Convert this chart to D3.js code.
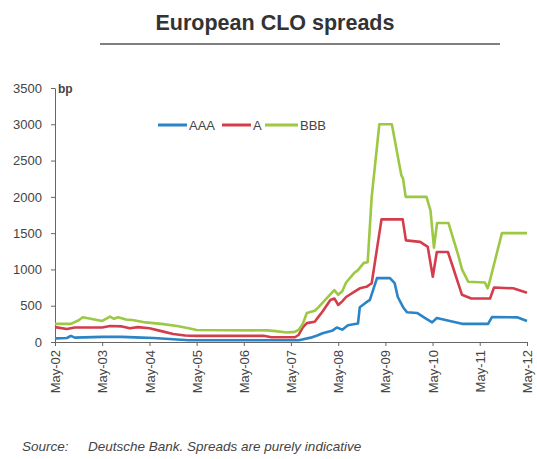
<!DOCTYPE html>
<html>
<head>
<meta charset="utf-8">
<script src="https://cdn.jsdelivr.net/npm/d3@7"></script>
<style>
  body { margin: 0; background: #fff; }
  text { font-family: "Liberation Sans", Arial, sans-serif; }
</style>
</head>
<body>
<div id="chart"></div>
<script>
// spreads in bp
var aaa = [
  ["2002-05-01", 50], ["2002-08-01", 55], ["2002-09-01", 85], ["2002-10-01", 60],
  ["2003-05-01", 70], ["2003-10-01", 70], ["2004-03-01", 60], ["2004-06-01", 55],
  ["2004-09-01", 45], ["2004-12-01", 35], ["2005-03-01", 25], ["2007-07-01", 25],
  ["2007-10-01", 60], ["2007-11-20", 90], ["2008-01-01", 120], ["2008-03-20", 160],
  ["2008-04-20", 200], ["2008-06-01", 170], ["2008-07-15", 230], ["2008-10-01", 255],
  ["2008-10-15", 480], ["2008-11-25", 535], ["2009-01-01", 580], ["2009-02-25", 880],
  ["2009-06-05", 880], ["2009-07-12", 810], ["2009-08-05", 620], ["2009-09-15", 480],
  ["2009-10-15", 410], ["2010-01-01", 400], ["2010-03-05", 330], ["2010-04-28", 270],
  ["2010-06-03", 330], ["2010-09-12", 290], ["2010-12-15", 250], ["2011-07-05", 250],
  ["2011-08-05", 345], ["2012-02-15", 340], ["2012-05-01", 290]
];
var singleA = [
  ["2002-05-01", 205], ["2002-08-01", 180], ["2002-10-01", 200], ["2003-05-01", 200],
  ["2003-07-01", 220], ["2003-10-01", 215], ["2003-12-01", 190], ["2004-02-01", 205],
  ["2004-05-01", 190], ["2004-08-01", 150], ["2004-11-01", 110], ["2005-02-01", 90],
  ["2005-05-01", 85], ["2006-10-01", 85], ["2006-12-01", 65], ["2007-06-01", 65],
  ["2007-07-01", 100], ["2007-08-01", 200], ["2007-09-01", 260], ["2007-11-01", 280],
  ["2007-12-01", 350], ["2008-01-01", 420], ["2008-03-01", 580], ["2008-04-01", 600],
  ["2008-05-01", 510], ["2008-06-01", 560], ["2008-07-01", 620], ["2008-09-01", 690],
  ["2008-10-15", 740], ["2008-12-05", 760], ["2009-01-15", 810], ["2009-04-01", 1690],
  ["2009-09-12", 1690], ["2009-10-07", 1400], ["2010-01-25", 1380], ["2010-03-25", 1310],
  ["2010-05-03", 900], ["2010-06-03", 1240], ["2010-08-28", 1240], ["2010-10-06", 1030],
  ["2010-11-15", 810], ["2010-12-15", 650], ["2011-02-24", 600], ["2011-07-20", 600],
  ["2011-08-20", 750], ["2012-01-15", 740], ["2012-05-01", 680]
];
var bbb = [
  ["2002-05-01", 250], ["2002-09-01", 250], ["2002-11-01", 300], ["2002-12-01", 340],
  ["2003-02-01", 320], ["2003-05-01", 290], ["2003-07-01", 350], ["2003-08-01", 320],
  ["2003-09-01", 340], ["2003-11-01", 310], ["2004-01-01", 300], ["2004-04-01", 270],
  ["2004-08-01", 250], ["2004-12-01", 220], ["2005-03-01", 190], ["2005-05-01", 165],
  ["2006-11-01", 160], ["2007-01-01", 150], ["2007-04-01", 130], ["2007-06-01", 140],
  ["2007-07-01", 170], ["2007-08-01", 250], ["2007-09-01", 400], ["2007-11-01", 430],
  ["2007-12-01", 480], ["2008-02-01", 600], ["2008-04-01", 715], ["2008-05-01", 650],
  ["2008-06-01", 700], ["2008-07-01", 820], ["2008-09-01", 950], ["2008-10-01", 990],
  ["2008-11-15", 1090], ["2008-12-15", 1100], ["2009-01-15", 2000], ["2009-03-15", 3000],
  ["2009-06-20", 3000], ["2009-09-01", 2300], ["2009-09-15", 2250], ["2009-10-05", 2000],
  ["2010-03-15", 2000], ["2010-04-15", 1815], ["2010-05-12", 1300], ["2010-06-05", 1640],
  ["2010-09-01", 1640], ["2010-11-15", 1200], ["2010-12-15", 1000], ["2011-02-01", 830],
  ["2011-06-10", 820], ["2011-07-01", 740], ["2011-07-15", 820], ["2011-10-20", 1500],
  ["2012-05-01", 1500]
];

var seriesNames = ["AAA", "A", "BBB"];
var seriesColors = ["#2b84c6", "#d43d4c", "#9cc843"];
var yTicks = [0, 500, 1000, 1500, 2000, 2500, 3000, 3500];
var xTicks = ["2002-05-01", "2003-05-01", "2004-05-01", "2005-05-01", "2006-05-01", "2007-05-01",
              "2008-05-01", "2009-05-01", "2010-05-01", "2011-05-01", "2012-05-01"];

var W = 537, H = 459;
var margin = {top: 88, right: 10, bottom: 117, left: 55},
    width = 527 - margin.left,
    height = 342 - margin.top;

var svg = d3.select("#chart")
  .append("svg")
    .attr("width", W)
    .attr("height", H);

var parseTime = d3.timeParse("%Y-%m-%d");

// title + rule
svg.append("text")
  .attr("x", 275).attr("y", 30)
  .attr("text-anchor", "middle")
  .style("font-size", "21.5px").style("font-weight", "bold").style("fill", "#333")
  .text("European CLO spreads");
svg.append("line")
  .attr("x1", 100).attr("x2", 500).attr("y1", 44).attr("y2", 44)
  .style("stroke", "#555").style("stroke-width", 1.5);

var g = svg.append("g")
  .attr("transform", "translate(" + margin.left + "," + margin.top + ")");

var x = d3.scaleTime()
  .range([0, width])
  .domain([parseTime("2002-05-01"), parseTime("2012-05-01")]);

var y = d3.scaleLinear()
  .range([height, 0])
  .domain([0, 3500]);

// Y axis
var yAxis = g.append("g")
  .call(d3.axisLeft(y).tickValues(yTicks).tickFormat(d3.format("d"))
        .tickSize(4).tickSizeOuter(0).tickPadding(9));
yAxis.select(".domain").style("stroke", "#666");
yAxis.selectAll(".tick line").style("stroke", "#666");
yAxis.selectAll("text")
  .style("font-size", "13px").style("fill", "#444").style("font-family", "Liberation Sans, Arial, sans-serif");

// X axis
var xAxis = g.append("g")
  .attr("transform", "translate(0," + height + ")")
  .call(d3.axisBottom(x).tickValues(xTicks.map(parseTime))
        .tickFormat(d3.timeFormat("%b-%y")).tickSize(4).tickSizeOuter(0));
xAxis.select(".domain").style("stroke", "#666");
xAxis.selectAll(".tick line").style("stroke", "#666");
xAxis.selectAll("text")
  .attr("transform", "rotate(-90)")
  .attr("x", -8).attr("y", 0).attr("dy", "0.35em")
  .style("text-anchor", "end")
  .style("font-size", "13px").style("fill", "#444").style("font-family", "Liberation Sans, Arial, sans-serif");

// unit
g.append("text")
  .attr("x", 3).attr("y", 5)
  .style("font-size", "12px").style("font-weight", "bold").style("fill", "#444")
  .text("bp");

// lines
var line = d3.line()
  .x(function(d) { return x(parseTime(d[0])); })
  .y(function(d) { return y(d[1]); });

[aaa, singleA, bbb].forEach(function(data, i) {
  g.append("path")
    .datum(data)
    .attr("d", line)
    .style("fill", "none")
    .style("stroke", seriesColors[i])
    .style("stroke-width", 2.6)
    .style("stroke-linejoin", "round");
});

// legend
var legendX = [158, 222, 265];
var legend = svg.append("g");
seriesNames.forEach(function(name, i) {
  legend.append("line")
    .attr("x1", legendX[i]).attr("x2", legendX[i] + (i == 2 ? 33 : 29))
    .attr("y1", 125).attr("y2", 125)
    .style("stroke", seriesColors[i]).style("stroke-width", 3);
  legend.append("text")
    .attr("x", legendX[i] + (i == 2 ? 35 : 31)).attr("y", 129.5)
    .style("font-size", "13px").style("fill", "#444")
    .text(name);
});

// source
svg.append("text")
  .attr("x", 22).attr("y", 451)
  .style("font-size", "13.5px").style("font-style", "italic").style("fill", "#444")
  .text("Source:");
svg.append("text")
  .attr("x", 88).attr("y", 451)
  .style("font-size", "13.5px").style("font-style", "italic").style("fill", "#444")
  .text("Deutsche Bank. Spreads are purely indicative");
</script>
</body>
</html>
